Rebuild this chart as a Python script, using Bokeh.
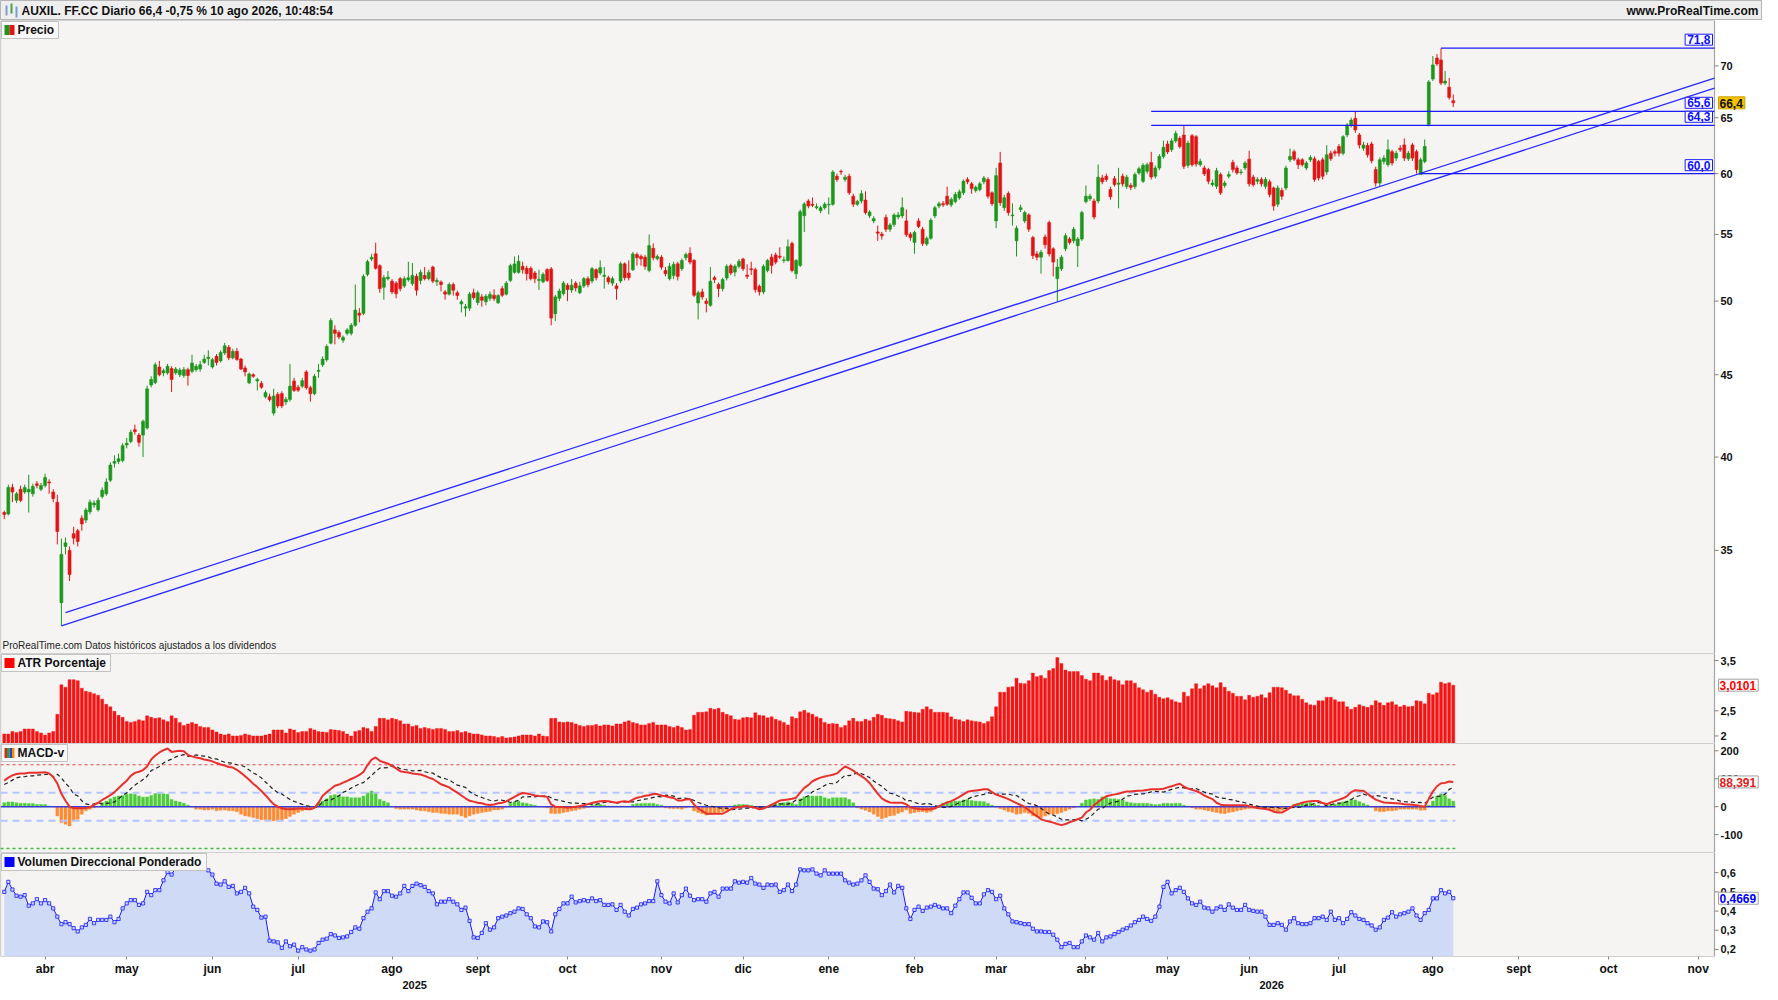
import numpy as np
import pandas as pd
from bokeh.plotting import figure
from bokeh.layouts import column
from bokeh.models import (Range1d, FixedTicker, CustomJSTickFormatter, Label,
                          BoxAnnotation, LinearAxis)
from bokeh.core.properties import value
from bokeh.embed import file_html
from bokeh.resources import INLINE

# ------------------------------------------------------------------ calendar
first_session = "2025-03-18"
last_calendar_day = "2026-12-31"
market_holidays = ["2025-04-18", "2025-04-21", "2025-05-01", "2025-12-25", "2025-12-26",
                   "2026-01-01", "2026-04-03", "2026-04-06", "2026-05-01"]
month_names = ["ene", "feb", "mar", "abr", "may", "jun", "jul", "ago", "sept", "oct", "nov", "dic"]

# ------------------------------------------------------------------ prices (daily OHLC)
opens = [
    36.95, 36.87, 38.3, 37.6, 38.2, 38.05, 38.05, 37.95, 38.5, 38.2,
    38.4, 38.6, 38.05, 37.5, 32.48, 35.2, 35.0, 35.85, 36.0, 36.65,
    36.55, 36.99, 37.35, 37.1, 37.8, 37.95, 38.7, 39.65, 39.75, 39.8,
    40.7, 40.9, 41.6, 41.28, 41.28, 41.7, 44.35, 44.5, 45.5, 45.12,
    45.12, 45.4, 45.12, 45.0, 44.95, 45.33, 45.22, 45.33, 45.37, 45.8,
    46.05, 45.5, 46.2, 45.9, 46.42, 46.8, 46.1, 46.53, 46.02, 45.44,
    44.48, 45.0, 44.6, 44.45, 43.6, 43.6, 42.6, 43.75, 43.8, 43.28,
    43.44, 44.6, 44.2, 44.27, 45.18, 44.17, 43.8, 45.22, 45.65, 45.98,
    47.08, 47.98, 47.8, 47.28, 47.75, 47.75, 48.3, 49.15, 49.13, 51.95,
    53.1, 53.5, 52.6, 51.0, 51.63, 51.45, 51.3, 51.63, 51.1, 51.55,
    51.26, 51.8, 51.5, 51.87, 51.63, 52.5, 51.4, 51.38, 50.66, 50.5,
    51.2, 50.6, 49.8, 49.5, 49.5, 50.6, 49.9, 50.3, 49.95, 50.2,
    50.42, 49.88, 50.9, 50.5, 51.5, 52.1, 52.1, 52.55, 52.4, 52.4,
    52.05, 51.5, 51.4, 52.3, 52.35, 49.1, 50.2, 50.54, 51.15, 50.8,
    51.3, 50.6, 51.1, 51.63, 51.46, 52.3, 52.05, 51.8, 51.7, 51.3,
    51.1, 51.46, 52.74, 52.05, 52.3, 53.44, 53.3, 53.24, 52.24, 53.92,
    53.12, 53.24, 52.24, 51.63, 51.87, 52.74, 52.37, 53.2, 53.54, 52.99,
    49.87, 50.66, 50.0, 49.7, 51.7, 51.2, 50.9, 51.68, 52.6, 52.12,
    52.55, 53.1, 51.9, 52.37, 52.3, 51.07, 50.66, 52.24, 53.24, 53.41,
    53.32, 52.99, 52.99, 54.3, 52.0, 52.62, 56.5, 57.7, 57.43, 57.15,
    56.9, 57.15, 57.38, 57.43, 59.78, 60.2, 59.5, 59.78, 58.1, 57.43,
    57.7, 57.78, 56.5, 56.08, 55.2, 55.03, 56.35, 55.42, 55.8, 56.4,
    56.48, 56.08, 55.03, 54.38, 56.08, 55.42, 54.25, 54.7, 56.48, 57.28,
    57.48, 58.1, 57.38, 57.65, 57.97, 58.38, 59.5, 59.13, 58.57, 58.65,
    59.3, 59.5, 58.38, 56.08, 60.92, 57.15, 58.32, 56.5, 54.51, 57.0,
    56.08, 56.56, 54.77, 53.49, 53.24, 54.8, 55.95, 53.88, 51.63, 52.37,
    53.88, 54.64, 54.51, 54.13, 54.64, 57.65, 57.88, 57.7, 57.7, 59.63,
    59.78, 58.65, 59.57, 59.1, 59.78, 58.9, 59.0, 58.9, 60.06, 59.35,
    60.2, 60.97, 59.78, 60.49, 61.5, 62.6, 62.1, 62.88, 63.12, 63.41,
    60.72, 63.35, 63.26, 60.78, 60.49, 60.35, 59.06, 58.93, 59.92, 59.0,
    59.78, 60.97, 60.49, 60.1, 60.49, 61.26, 59.7, 59.35, 59.5, 58.93,
    59.3, 58.79, 57.43, 58.57, 58.79, 61.2, 61.92, 61.2, 61.2, 60.49,
    61.2, 61.29, 61.06, 61.2, 60.15, 61.78, 61.92, 62.38, 61.78, 63.41,
    64.32, 64.94, 63.41, 62.23, 62.47, 62.6, 60.35, 59.2, 61.06, 60.78,
    61.92, 61.35, 62.23, 62.52, 61.29, 62.52, 61.92, 59.92, 61.06, 64.38,
    68.7, 70.8, 70.6, 68.3, 67.9, 66.6,
]
closes = [
    36.85, 38.3, 38.05, 37.95, 37.6, 38.3, 38.2, 38.35, 38.4, 38.4,
    38.85, 38.55, 37.7, 35.96, 34.8, 35.38, 33.81, 35.62, 35.45, 36.35,
    37.08, 37.5, 37.45, 37.6, 38.15, 38.6, 39.55, 39.75, 39.9, 40.66,
    40.8, 41.44, 41.48, 40.85, 42.1, 44.1, 44.7, 45.65, 45.0, 45.26,
    45.55, 44.7, 45.37, 45.3, 45.33, 44.95, 45.76, 45.55, 45.65, 46.02,
    46.15, 45.98, 45.8, 46.46, 46.9, 46.1, 46.53, 46.0, 45.37, 45.18,
    45.05, 44.9, 44.7, 44.2, 43.86, 43.42, 43.65, 43.04, 43.04, 43.44,
    44.27, 44.0, 44.02, 44.62, 44.17, 43.8, 44.9, 45.29, 46.02, 46.86,
    48.63, 47.75, 47.5, 47.48, 47.98, 48.3, 49.36, 49.0, 51.8, 52.9,
    53.23, 52.4, 50.9, 51.7, 51.75, 50.66, 50.54, 50.9, 51.63, 51.7,
    51.87, 50.78, 52.1, 51.63, 52.1, 51.45, 51.5, 51.2, 50.5, 51.2,
    50.78, 50.4, 49.95, 49.6, 50.5, 50.25, 50.6, 50.06, 50.35, 50.48,
    50.18, 50.4, 50.42, 51.3, 52.6, 52.73, 52.93, 52.3, 52.0, 51.63,
    51.63, 51.58, 51.95, 51.5, 48.8, 50.3, 50.73, 51.3, 50.83, 51.15,
    50.95, 51.1, 51.63, 51.2, 52.37, 51.7, 52.45, 51.88, 51.4, 51.63,
    50.9, 52.74, 51.7, 51.7, 53.49, 53.2, 53.12, 52.55, 54.13, 53.2,
    53.3, 52.49, 52.0, 52.55, 52.7, 51.8, 52.99, 53.44, 52.87, 50.42,
    50.6, 50.3, 49.83, 51.44, 51.56, 50.9, 51.56, 52.55, 52.05, 52.55,
    52.93, 52.37, 51.8, 52.3, 50.83, 50.66, 52.55, 52.99, 52.62, 52.87,
    53.24, 53.04, 54.05, 52.24, 52.99, 56.82, 57.46, 57.29, 57.35, 57.23,
    57.15, 57.43, 57.43, 60.14, 59.5, 60.15, 59.7, 58.38, 57.43, 57.65,
    58.3, 56.75, 56.8, 56.26, 55.1, 54.9, 55.42, 55.76, 56.56, 56.56,
    57.15, 54.98, 54.77, 55.16, 55.63, 54.3, 54.7, 56.14, 57.15, 57.48,
    57.38, 57.43, 57.83, 58.24, 58.46, 59.35, 59.3, 58.73, 58.84, 59.13,
    59.63, 58.1, 57.48, 59.83, 57.56, 57.97, 56.75, 56.56, 55.5, 57.15,
    56.75, 55.42, 53.36, 53.24, 53.62, 54.2, 53.49, 52.87, 52.49, 53.24,
    54.9, 54.38, 55.42, 54.64, 56.75, 58.1, 58.1, 56.4, 59.7, 59.3,
    59.5, 58.05, 59.07, 59.2, 59.13, 59.7, 58.84, 59.92, 60.43, 60.72,
    60.78, 59.72, 60.49, 61.5, 62.3, 61.9, 62.88, 63.56, 62.38, 60.63,
    62.68, 60.78, 60.83, 61.06, 59.98, 59.35, 59.2, 60.26, 58.38, 59.2,
    59.92, 60.35, 60.06, 60.15, 60.92, 59.13, 59.06, 59.5, 59.13, 59.5,
    58.24, 57.29, 58.79, 58.1, 60.49, 61.5, 61.26, 60.78, 60.78, 60.92,
    61.4, 59.5, 59.63, 59.78, 61.64, 61.29, 61.78, 61.78, 63.26, 64.32,
    64.78, 63.87, 62.52, 62.52, 61.64, 61.12, 59.2, 61.2, 61.35, 62.08,
    60.92, 61.78, 62.08, 61.35, 61.78, 61.35, 60.35, 61.2, 62.38, 68.4,
    70.1, 70.2, 68.3, 68.5, 66.9, 66.4,
]
highs = [
    37.05, 38.45, 38.5, 38.05, 38.4, 38.45, 39.0, 38.5, 38.65, 38.55,
    39.05, 38.75, 38.2, 37.9, 35.6, 35.65, 35.2, 36.2, 36.1, 36.8,
    37.2, 37.65, 37.6, 37.75, 38.3, 38.8, 39.7, 40.1, 40.2, 40.8,
    41.1, 41.6, 41.9, 41.4, 42.2, 44.3, 44.9, 45.8, 45.9, 45.4,
    45.7, 45.55, 45.5, 45.45, 45.5, 45.45, 46.3, 45.7, 45.9, 46.3,
    46.6, 46.1, 46.35, 46.6, 47.1, 46.95, 46.7, 46.75, 46.1, 45.6,
    45.15, 45.1, 44.8, 44.6, 44.0, 43.8, 44.1, 43.9, 43.95, 43.6,
    45.7, 44.8, 44.35, 44.8, 45.3, 44.3, 45.05, 45.7, 46.2, 47.0,
    48.8, 48.3, 47.95, 47.6, 48.1, 48.45, 51.2, 49.5, 51.95, 53.05,
    53.5, 54.35, 52.7, 51.9, 52.2, 51.6, 51.45, 51.75, 51.8, 52.9,
    52.8, 52.0, 52.3, 52.5, 52.3, 52.6, 51.7, 51.5, 50.8, 51.35,
    51.35, 50.75, 50.1, 49.8, 50.65, 50.9, 50.75, 50.5, 50.5, 50.7,
    50.85, 50.5, 51.1, 51.45, 52.75, 53.3, 53.4, 52.9, 52.6, 52.55,
    52.2, 52.3, 52.1, 52.4, 52.5, 50.45, 50.9, 51.45, 51.3, 51.6,
    51.45, 51.4, 51.75, 51.8, 52.5, 52.4, 53.0, 52.5, 51.85, 51.8,
    51.3, 52.9, 52.85, 53.0, 53.65, 53.6, 53.45, 53.4, 55.0, 54.3,
    53.45, 53.4, 52.5, 52.8, 52.9, 52.9, 53.15, 53.6, 54.0, 53.1,
    50.75, 50.9, 50.2, 52.5, 51.85, 51.35, 51.7, 52.7, 52.75, 52.7,
    53.1, 53.2, 52.7, 52.9, 52.45, 51.2, 52.7, 53.1, 53.5, 53.6,
    54.0, 53.3, 54.6, 54.45, 53.1, 57.0, 57.6, 57.85, 58.0, 57.5,
    57.3, 57.6, 58.0, 60.3, 60.0, 60.35, 59.9, 60.0, 58.3, 57.8,
    58.6, 58.5, 56.95, 56.45, 55.7, 55.2, 56.6, 55.9, 56.7, 56.8,
    58.0, 57.0, 55.2, 55.3, 56.3, 55.6, 54.85, 56.3, 57.3, 57.65,
    57.7, 58.9, 58.0, 58.45, 58.65, 59.5, 59.7, 59.3, 59.0, 59.3,
    59.8, 59.7, 58.5, 60.5, 61.9, 58.2, 58.5, 57.5, 55.7, 57.4,
    56.9, 56.7, 54.9, 53.7, 53.8, 55.0, 56.1, 54.0, 53.1, 53.4,
    55.1, 54.8, 55.6, 54.8, 56.9, 59.0, 58.3, 57.9, 60.8, 59.9,
    60.0, 58.9, 59.8, 60.5, 60.0, 59.9, 59.2, 60.1, 60.6, 60.9,
    60.95, 61.9, 60.7, 61.7, 62.9, 62.9, 63.1, 63.8, 63.3, 64.3,
    62.9, 63.5, 63.4, 61.3, 60.7, 60.5, 59.5, 60.5, 60.1, 59.4,
    60.2, 61.2, 60.7, 60.4, 61.1, 62.0, 59.9, 59.7, 59.7, 59.7,
    59.5, 58.9, 59.0, 58.8, 60.7, 62.2, 62.1, 61.4, 61.35, 61.1,
    61.6, 61.5, 61.2, 61.4, 62.5, 62.0, 62.1, 62.6, 63.4, 64.5,
    65.0, 65.6, 63.6, 62.8, 62.7, 62.8, 60.6, 61.4, 61.6, 63.0,
    62.1, 62.0, 62.5, 63.1, 62.0, 62.7, 62.1, 61.4, 63.0, 68.6,
    71.0, 71.2, 71.8, 69.5, 68.8, 67.2,
]
lows = [
    36.6, 36.8, 37.5, 37.45, 37.5, 37.95, 36.95, 37.8, 38.25, 38.1,
    38.3, 37.95, 37.5, 35.3, 31.42, 34.8, 33.5, 35.3, 35.2, 36.0,
    36.4, 36.85, 37.2, 37.0, 37.7, 37.85, 38.6, 39.4, 39.6, 39.7,
    40.5, 40.8, 41.3, 40.6, 40.0, 41.6, 44.2, 44.4, 44.9, 44.9,
    45.0, 43.9, 45.0, 44.85, 44.8, 44.3, 45.1, 45.2, 45.2, 45.7,
    45.6, 45.4, 45.6, 45.8, 46.3, 45.95, 46.0, 45.9, 45.3, 44.9,
    44.4, 44.8, 44.0, 44.1, 43.5, 43.3, 42.45, 42.9, 42.9, 43.1,
    43.3, 43.9, 43.9, 44.15, 44.05, 43.3, 43.7, 44.8, 45.5, 45.85,
    47.0, 47.0, 47.35, 47.1, 47.6, 47.6, 48.2, 48.5, 49.0, 51.8,
    52.95, 52.3, 50.6, 50.1, 51.5, 50.5, 50.2, 50.7, 50.95, 51.4,
    51.1, 50.4, 51.2, 51.5, 51.5, 51.3, 51.1, 50.7, 50.1, 50.4,
    50.4, 50.1, 49.2, 48.9, 49.3, 50.1, 49.7, 49.6, 49.7, 50.0,
    50.0, 49.8, 50.3, 50.4, 51.4, 52.0, 52.0, 52.0, 51.5, 51.5,
    51.3, 50.8, 51.3, 51.4, 48.3, 48.6, 50.0, 50.4, 50.0, 50.6,
    50.7, 50.5, 50.95, 51.0, 51.3, 51.5, 51.9, 50.9, 51.2, 51.1,
    50.1, 51.3, 51.5, 51.5, 52.2, 52.6, 52.6, 52.3, 52.1, 53.0,
    53.0, 52.3, 51.8, 51.5, 51.6, 51.5, 52.2, 53.0, 52.7, 50.3,
    48.7, 50.1, 49.2, 49.6, 51.3, 50.3, 50.7, 51.5, 51.9, 51.8,
    52.4, 52.2, 51.6, 51.9, 50.6, 50.4, 50.5, 52.1, 52.0, 52.7,
    53.1, 52.8, 52.9, 52.1, 51.6, 52.5, 55.2, 57.1, 57.2, 57.0,
    56.7, 57.0, 56.6, 57.3, 59.3, 59.9, 59.3, 58.2, 57.2, 57.3,
    57.5, 56.6, 56.3, 55.9, 54.5, 54.6, 55.2, 55.2, 55.6, 56.2,
    56.3, 54.8, 54.5, 53.5, 55.5, 54.1, 54.1, 54.6, 56.3, 57.1,
    57.2, 57.3, 57.2, 57.5, 57.8, 58.2, 59.1, 58.3, 58.4, 58.5,
    59.1, 57.9, 57.3, 55.5, 57.3, 56.9, 56.5, 55.7, 53.3, 56.8,
    55.9, 55.2, 53.1, 53.0, 52.0, 53.9, 53.3, 51.8, 49.95, 52.2,
    53.7, 54.2, 54.3, 52.5, 54.5, 57.5, 57.7, 56.2, 57.5, 59.1,
    59.3, 57.8, 58.9, 57.1, 58.9, 58.7, 58.6, 58.7, 59.9, 59.2,
    60.0, 59.5, 59.6, 60.3, 61.3, 61.7, 61.9, 62.7, 62.2, 60.4,
    60.5, 60.6, 60.6, 60.6, 59.8, 59.1, 58.9, 58.7, 58.2, 58.8,
    59.6, 60.1, 59.9, 59.9, 60.3, 58.9, 58.9, 59.1, 58.9, 58.7,
    58.0, 56.9, 57.2, 57.8, 58.6, 61.0, 61.1, 60.4, 60.6, 60.3,
    61.0, 59.3, 59.4, 59.5, 59.9, 61.1, 61.5, 61.5, 61.6, 63.2,
    64.1, 63.6, 62.2, 62.0, 61.4, 60.9, 58.9, 58.9, 60.8, 60.6,
    60.7, 61.1, 61.9, 61.1, 61.1, 61.1, 60.0, 60.0, 60.9, 64.2,
    68.5, 70.0, 68.1, 68.1, 66.7, 66.0,
]
price_ticks = [35, 40, 45, 50, 55, 60, 65, 70]

# ------------------------------------------------------------------ drawn lines / levels (price panel)
level_values = [71.8, 65.6, 64.3, 60.0]
level_from_bar = [352, 281, 281, 347]
trend_from_bar = [14, 15]
trend_from_price = [31.42, 32.02]
trend_to_bar = [419, 419]
trend_to_price = [67.8, 68.8]

# ------------------------------------------------------------------ ATR Porcentaje
atr_pct = [
    2.04, 2.04, 2.09, 2.07, 2.09, 2.14, 2.14, 2.14, 2.09, 2.06,
    2.02, 2.06, 2.09, 2.43, 3.02, 2.97, 3.12, 3.12, 3.10, 2.95,
    2.89, 2.87, 2.84, 2.81, 2.73, 2.63, 2.58, 2.49, 2.41, 2.37,
    2.29, 2.27, 2.29, 2.32, 2.30, 2.40, 2.37, 2.35, 2.36, 2.32,
    2.29, 2.40, 2.35, 2.27, 2.21, 2.24, 2.27, 2.24, 2.19, 2.17,
    2.17, 2.12, 2.08, 2.04, 2.02, 2.04, 2.00, 2.00, 2.01, 2.04,
    2.02, 2.00, 2.00, 2.00, 2.02, 2.04, 2.12, 2.12, 2.12, 2.06,
    2.14, 2.12, 2.07, 2.09, 2.09, 2.15, 2.12, 2.09, 2.08, 2.07,
    2.13, 2.12, 2.11, 2.09, 2.04, 2.00, 2.09, 2.11, 2.17, 2.15,
    2.09, 2.19, 2.35, 2.35, 2.32, 2.35, 2.33, 2.30, 2.24, 2.24,
    2.19, 2.21, 2.15, 2.17, 2.15, 2.13, 2.15, 2.15, 2.13, 2.09,
    2.09, 2.11, 2.07, 2.09, 2.06, 2.04, 2.04, 2.02, 2.00, 2.00,
    1.99, 1.97, 1.99, 1.96, 1.97, 1.98, 2.00, 2.02, 2.02, 2.02,
    2.00, 2.04, 2.00, 1.99, 2.35, 2.35, 2.28, 2.27, 2.28, 2.27,
    2.24, 2.21, 2.19, 2.21, 2.21, 2.23, 2.20, 2.22, 2.22, 2.20,
    2.24, 2.24, 2.28, 2.30, 2.27, 2.25, 2.22, 2.22, 2.25, 2.27,
    2.22, 2.22, 2.22, 2.19, 2.17, 2.20, 2.17, 2.12, 2.13, 2.41,
    2.47, 2.47, 2.48, 2.55, 2.53, 2.55, 2.47, 2.43, 2.40, 2.33,
    2.32, 2.36, 2.37, 2.36, 2.46, 2.41, 2.40, 2.36, 2.38, 2.33,
    2.30, 2.27, 2.22, 2.38, 2.35, 2.48, 2.51, 2.46, 2.43, 2.38,
    2.35, 2.27, 2.24, 2.25, 2.24, 2.17, 2.21, 2.30, 2.35, 2.29,
    2.29, 2.33, 2.30, 2.37, 2.43, 2.41, 2.35, 2.34, 2.33, 2.30,
    2.28, 2.49, 2.48, 2.47, 2.46, 2.53, 2.58, 2.53, 2.47, 2.47,
    2.47, 2.46, 2.38, 2.33, 2.32, 2.29, 2.32, 2.30, 2.29, 2.28,
    2.25, 2.29, 2.38, 2.58, 2.87, 2.87, 2.97, 2.98, 3.15, 3.05,
    3.04, 3.10, 3.25, 3.18, 3.20, 3.15, 3.30, 3.34, 3.56, 3.44,
    3.31, 3.28, 3.28, 3.28, 3.20, 3.13, 3.10, 3.25, 3.25, 3.20,
    3.11, 3.18, 3.12, 3.10, 3.02, 3.10, 3.10, 3.05, 2.96, 2.92,
    2.87, 2.91, 2.83, 2.77, 2.74, 2.76, 2.72, 2.68, 2.66, 2.87,
    2.79, 2.94, 3.04, 2.94, 3.00, 3.04, 3.00, 2.96, 3.06, 2.97,
    2.89, 2.85, 2.79, 2.79, 2.72, 2.81, 2.77, 2.79, 2.82, 2.76,
    2.86, 2.97, 2.97, 2.96, 2.91, 2.84, 2.80, 2.80, 2.73, 2.66,
    2.62, 2.61, 2.70, 2.70, 2.77, 2.77, 2.72, 2.68, 2.68, 2.58,
    2.53, 2.57, 2.62, 2.59, 2.57, 2.61, 2.70, 2.66, 2.61, 2.66,
    2.68, 2.62, 2.58, 2.61, 2.58, 2.59, 2.70, 2.69, 2.64, 2.85,
    2.82, 2.86, 3.07, 3.04, 3.06, 3.0101,
]
atr_ticks = [2, 2.5, 3.5]

# ------------------------------------------------------------------ MACD-v line and histogram
macd_v = [
    93, 104, 112, 117, 119, 119, 121, 121, 121, 122,
    123, 119, 106, 83, 46, 21, 0, -6, -6, -6,
    -5, -2, 6, 14, 24, 32, 41, 52, 66, 80,
    93, 110, 121, 125, 131, 144, 169, 183, 194, 202,
    208, 196, 198, 200, 198, 185, 180, 176, 173, 169,
    166, 162, 156, 151, 147, 142, 140, 132, 121, 109,
    96, 82, 70, 56, 41, 24, 9, 0, -6, -8,
    -9, -8, -7, -7, -8, -9, -4, 14, 39, 52,
    63, 75, 79, 86, 92, 99, 106, 114, 124, 149,
    168, 176, 164, 159, 154, 146, 137, 127, 124, 122,
    119, 117, 115, 110, 104, 99, 90, 80, 75, 69,
    59, 50, 40, 30, 21, 18, 14, 12, 8, 6,
    8, 12, 14, 19, 27, 35, 43, 49, 47, 44,
    40, 38, 37, 35, 8, 0, -1, -2, -4, -2,
    0, 2, 5, 9, 13, 17, 19, 20, 19, 17,
    14, 18, 19, 17, 25, 32, 35, 39, 41, 45,
    45, 40, 37, 34, 31, 22, 22, 26, 27, 7,
    -6, -15, -25, -25, -25, -25, -25, -18, -9, -4,
    -1, 1, 2, -1, -4, -9, -7, 0, 7, 14,
    22, 24, 26, 28, 32, 50, 67, 77, 91, 98,
    104, 108, 111, 114, 119, 132, 144, 137, 129, 118,
    109, 99, 85, 65, 47, 30, 21, 15, 14, 14,
    14, 8, -2, -6, -8, -9, -9, -9, -6, 1,
    9, 15, 20, 27, 35, 44, 53, 56, 58, 60,
    62, 62, 52, 43, 38, 33, 27, 20, 13, 6,
    -1, -13, -24, -34, -45, -50, -53, -57, -62, -66,
    -62, -56, -51, -45, -39, -21, -11, 5, 17, 28,
    37, 41, 44, 46, 51, 54, 54, 56, 57, 58,
    60, 62, 62, 62, 64, 69, 73, 78, 82, 72,
    65, 60, 56, 49, 40, 33, 27, 14, 7, 5,
    5, 5, 5, 5, 5, 2, -1, -5, -7, -8,
    -11, -18, -21, -21, -13, -4, 5, 9, 14, 18,
    19, 20, 20, 13, 9, 15, 20, 25, 30, 38,
    52, 59, 57, 57, 46, 35, 25, 20, 15, 14,
    13, 12, 11, 9, 8, 7, 5, 2, 0, 28,
    54, 73, 84, 85, 90, 88.391,
]
macd_hist = [
    14, 17, 17, 14, 12, 12, 11, 11, 8, 8,
    8, 2, -1, -33, -57, -63, -69, -51, -45, -27,
    -15, -9, -4, 0, 14, 20, 28, 35, 38, 40,
    44, 46, 44, 38, 34, 35, 40, 47, 50, 46,
    44, 26, 20, 17, 12, 5, -1, -9, -9, -12,
    -12, -9, -15, -13, -12, -15, -15, -18, -27, -33,
    -35, -39, -43, -47, -47, -51, -51, -51, -51, -43,
    -35, -27, -21, -15, -12, -9, -1, 14, 20, 28,
    40, 43, 40, 35, 35, 32, 32, 32, 38, 50,
    56, 50, 26, 20, 14, 0, -7, -9, -9, -9,
    -9, -12, -15, -15, -18, -21, -21, -24, -25, -27,
    -27, -27, -33, -39, -33, -27, -24, -21, -19, -17,
    -12, -12, -9, -1, 12, 17, 20, 14, 12, 8,
    5, 0, -1, -4, -24, -25, -24, -21, -19, -15,
    -13, -9, -6, -2, 5, 8, 8, 5, 2, 2,
    2, 2, 2, 0, 8, 11, 11, 12, 12, 12,
    8, 5, -4, -6, -7, -7, -9, -4, -1, -15,
    -21, -25, -30, -27, -24, -21, -18, -13, 2, 6,
    8, 8, 7, 5, -4, -7, -6, 0, 8, 8,
    12, 14, 17, 14, 8, 28, 35, 38, 38, 38,
    38, 32, 28, 32, 32, 32, 32, 26, 14, -4,
    -9, -13, -19, -27, -35, -43, -39, -33, -31, -24,
    -19, -12, -24, -21, -19, -18, -21, -18, -9, 0,
    12, 17, 19, 20, 20, 24, 26, 22, 20, 19,
    18, 12, 5, -1, -7, -12, -18, -21, -27, -25,
    -21, -24, -33, -37, -39, -33, -27, -27, -25, -21,
    -15, -9, -4, 0, 12, 24, 26, 28, 26, 35,
    32, 28, 28, 26, 24, 17, 14, 12, 12, 12,
    12, 9, 7, 8, 12, 12, 11, 12, 12, 5,
    1, -4, -9, -9, -12, -15, -18, -21, -24, -25,
    -21, -19, -15, -12, -9, -7, -6, -7, -6, -6,
    -9, -15, -18, -13, -7, 0, 8, 12, 14, 12,
    14, 8, 5, 2, 7, 8, 9, 12, 17, 20,
    26, 24, 18, 12, 6, -1, -15, -18, -18, -15,
    -15, -13, -9, -9, -9, -9, -9, -13, -12, 5,
    20, 36, 46, 40, 28, 20,
]
macd_levels = [150, 50, -50, -150]
macd_ticks = [-100, 0, 100, 200]

# ------------------------------------------------------------------ Volumen Direccional Ponderado
vdp = [
    0.500, 0.552, 0.512, 0.480, 0.475, 0.483, 0.428, 0.440, 0.462, 0.440,
    0.457, 0.440, 0.414, 0.371, 0.332, 0.342, 0.332, 0.311, 0.294, 0.315,
    0.328, 0.359, 0.337, 0.354, 0.354, 0.354, 0.371, 0.342, 0.359, 0.414,
    0.440, 0.457, 0.457, 0.432, 0.440, 0.500, 0.483, 0.509, 0.509, 0.560,
    0.603, 0.590, 0.625, 0.640, 0.655, 0.648, 0.660, 0.652, 0.640, 0.628,
    0.612, 0.590, 0.543, 0.538, 0.555, 0.526, 0.531, 0.492, 0.500, 0.521,
    0.492, 0.423, 0.406, 0.366, 0.371, 0.246, 0.242, 0.237, 0.208, 0.242,
    0.217, 0.225, 0.194, 0.212, 0.200, 0.194, 0.200, 0.234, 0.251, 0.256,
    0.280, 0.273, 0.260, 0.263, 0.268, 0.291, 0.315, 0.308, 0.363, 0.397,
    0.414, 0.497, 0.462, 0.504, 0.504, 0.480, 0.475, 0.492, 0.531, 0.504,
    0.531, 0.543, 0.535, 0.526, 0.504, 0.492, 0.435, 0.449, 0.449, 0.462,
    0.449, 0.435, 0.406, 0.418, 0.349, 0.263, 0.260, 0.286, 0.337, 0.303,
    0.315, 0.363, 0.371, 0.377, 0.389, 0.397, 0.414, 0.411, 0.383, 0.363,
    0.320, 0.315, 0.346, 0.342, 0.294, 0.383, 0.411, 0.440, 0.440, 0.475,
    0.445, 0.452, 0.457, 0.452, 0.466, 0.452, 0.457, 0.432, 0.432, 0.435,
    0.406, 0.432, 0.397, 0.377, 0.411, 0.418, 0.435, 0.440, 0.452, 0.452,
    0.555, 0.483, 0.449, 0.440, 0.492, 0.445, 0.483, 0.517, 0.480, 0.457,
    0.462, 0.462, 0.449, 0.492, 0.500, 0.475, 0.517, 0.517, 0.517, 0.555,
    0.548, 0.552, 0.548, 0.572, 0.543, 0.538, 0.521, 0.538, 0.535, 0.538,
    0.500, 0.509, 0.538, 0.504, 0.538, 0.617, 0.612, 0.612, 0.617, 0.595,
    0.586, 0.612, 0.595, 0.595, 0.595, 0.595, 0.560, 0.548, 0.538, 0.543,
    0.560, 0.586, 0.552, 0.517, 0.514, 0.483, 0.504, 0.538, 0.497, 0.531,
    0.521, 0.414, 0.359, 0.406, 0.423, 0.401, 0.418, 0.423, 0.432, 0.423,
    0.414, 0.414, 0.389, 0.428, 0.462, 0.497, 0.497, 0.469, 0.440, 0.440,
    0.487, 0.509, 0.500, 0.462, 0.480, 0.414, 0.383, 0.346, 0.342, 0.337,
    0.332, 0.332, 0.308, 0.294, 0.294, 0.291, 0.291, 0.277, 0.251, 0.212,
    0.229, 0.234, 0.212, 0.212, 0.242, 0.273, 0.263, 0.251, 0.286, 0.242,
    0.263, 0.268, 0.280, 0.291, 0.303, 0.311, 0.325, 0.342, 0.354, 0.371,
    0.359, 0.349, 0.371, 0.423, 0.526, 0.552, 0.492, 0.509, 0.521, 0.500,
    0.466, 0.440, 0.432, 0.449, 0.418, 0.414, 0.397, 0.414, 0.423, 0.406,
    0.435, 0.418, 0.406, 0.406, 0.432, 0.406, 0.401, 0.397, 0.397, 0.371,
    0.328, 0.328, 0.337, 0.328, 0.303, 0.346, 0.363, 0.337, 0.332, 0.332,
    0.337, 0.363, 0.363, 0.371, 0.354, 0.397, 0.354, 0.363, 0.337, 0.359,
    0.394, 0.377, 0.359, 0.354, 0.337, 0.325, 0.303, 0.315, 0.354, 0.366,
    0.394, 0.371, 0.383, 0.389, 0.397, 0.414, 0.377, 0.354, 0.389, 0.406,
    0.466, 0.466, 0.509, 0.492, 0.500, 0.4669,
]
vdp_ticks = [0.2, 0.3, 0.4, 0.5, 0.6]

n = len(closes)
for name, arr in [("opens", opens), ("highs", highs), ("lows", lows), ("atr_pct", atr_pct),
                  ("macd_v", macd_v), ("macd_hist", macd_hist), ("vdp", vdp)]:
    assert len(arr) == n, (name, len(arr), n)

# ------------------------------------------------------------------ calendar -> axis ticks
sessions = pd.bdate_range(first_session, last_calendar_day)
sessions = sessions[~sessions.isin(pd.to_datetime(market_holidays))]
month_pos, month_txt = [], []
for i in range(1, len(sessions)):
    if sessions[i].month != sessions[i - 1].month:
        month_pos.append(i)
        month_txt.append(month_names[sessions[i].month - 1])
first_2026 = int(np.argmax(sessions.year == 2026))

# ------------------------------------------------------------------ layout constants
FONT = "Liberation Sans"
W = 1762                 # whole width of every panel frame
DATA_W = 1714            # part of it used by the time axis
X_LO, X_HI = -0.92, 419.0
PX_PER_BAR = DATA_W / (X_HI - X_LO)
X_END = X_HI + (W - DATA_W) / PX_PER_BAR
xr = Range1d(X_LO, X_END)
BG = "#f5f4f2"
TICK_LEN = 4.0 / PX_PER_BAR

idx = np.arange(n)
o = np.array(opens); c = np.array(closes); h = np.array(highs); l = np.array(lows)
GREEN, RED = "#1c961c", "#e01414"
ccol = np.where(c >= o, GREEN, RED)


def fmt(v):
    return str(v).replace(".", ",")


def base_fig(fh, lo, hi, ticks, log=False, xaxis=False):
    p = figure(frame_width=W, frame_height=fh, x_range=xr, y_range=Range1d(lo, hi),
               y_axis_type="log" if log else "linear",
               x_axis_location="below" if xaxis else None,
               y_axis_location=None, toolbar_location=None,
               output_backend="svg", min_border=0)
    p.background_fill_color = "#ffffff"
    p.border_fill_color = "#ffffff"
    p.outline_line_color = None
    for g in p.grid:
        g.visible = False
    # plot area (grey) with its border, under the glyphs
    p.add_layout(BoxAnnotation(left=X_LO, right=X_HI, bottom=lo, top=hi, level="underlay",
                               fill_color=BG, fill_alpha=1.0, line_color="#a4a4a4",
                               line_alpha=1.0, line_width=1.2))
    # value scale on the right
    p.segment(x0=[X_HI] * len(ticks), y0=ticks, x1=[X_HI + TICK_LEN] * len(ticks), y1=ticks,
              line_color="#808080", line_width=1)
    p.text(x=[X_HI] * len(ticks), y=ticks, text=[fmt(t) for t in ticks], x_offset=6,
           text_baseline="middle", text_align="left", text_font=value(FONT),
           text_font_style="bold", text_font_size="11px", text_color="#111111")
    return p


def sbox(p, left, right, top, bottom, fill, line=None):
    p.add_layout(BoxAnnotation(left=left, right=right, top=top, bottom=bottom,
                               left_units="screen", right_units="screen",
                               top_units="screen", bottom_units="screen",
                               fill_color=fill, fill_alpha=1.0,
                               line_color=line, line_alpha=1.0, line_width=1))


def legend(p, fh, text, icon_cols, box_w):
    sbox(p, 1, box_w, fh - 1, fh - 18, "#f8f8f8", "#c2c2c2")
    iw = 10.0 / len(icon_cols)
    for k, col in enumerate(icon_cols):
        sbox(p, 4 + k * iw, 4 + (k + 1) * iw, fh - 4.5, fh - 14.5, col)
    p.add_layout(Label(x=17, y=fh - 9.5, x_units="screen", y_units="screen", text=text,
                       text_baseline="middle", text_align="left", text_font=FONT,
                       text_font_style="bold", text_font_size="12px", text_color="#111111"))


def value_box(p, y, text, color, fill="#ffffff", border="#a0a0a0"):
    p.add_layout(Label(x=X_HI, x_offset=4, y=y, x_units="data", y_units="data", text=text,
                       text_baseline="middle", text_align="left", text_font=FONT,
                       text_font_style="bold", text_font_size="12px", text_color=color,
                       background_fill_color=fill, background_fill_alpha=1.0,
                       border_line_color=border, border_line_alpha=1.0,
                       padding=dict(left=1, right=2, top=2, bottom=1)))


# ------------------------------------------------------------------ header
header = figure(frame_width=W, frame_height=20, x_range=Range1d(0, 1), y_range=Range1d(0, 1),
                x_axis_location=None, y_axis_location=None, toolbar_location=None,
                output_backend="svg", min_border=0)
header.background_fill_color = "#eeeeee"
header.border_fill_color = "#eeeeee"
header.outline_line_color = "#b5b5b5"
for g in header.grid:
    g.visible = False
sbox(header, 5, 7, 15, 5, "#7a9ad8")
sbox(header, 10, 12, 17, 7, "#4aa04a")
sbox(header, 15, 17, 14, 3, "#7a9ad8")
header.add_layout(Label(x=21, y=10, x_units="screen", y_units="screen",
                        text="AUXIL. FF.CC Diario 66,4 -0,75 % 10 ago 2026, 10:48:54",
                        text_baseline="middle", text_font=FONT, text_font_style="bold",
                        text_font_size="12px", text_color="#111111"))
header.add_layout(Label(x=W - 4, y=10, x_units="screen", y_units="screen",
                        text="www.ProRealTime.com", text_align="right",
                        text_baseline="middle", text_font=FONT, text_font_style="bold",
                        text_font_size="12px", text_color="#111111"))

# ------------------------------------------------------------------ price panel
PH = 633
pp = base_fig(PH, 30.2, 74.7, price_ticks, log=True)
pp.segment(x0=idx, y0=l, x1=idx, y1=h, line_color=ccol, line_width=1)
pp.vbar(x=idx, top=np.maximum(o, c), bottom=np.minimum(o, c), width=0.72,
        fill_color=ccol, line_color=ccol, line_width=0.6)
for x0, y0, x1, y1 in zip(trend_from_bar, trend_from_price, trend_to_bar, trend_to_price):
    pp.line([x0, x1], [y0, y1], line_color="#2a2aff", line_width=1.3)
for lv, xb in zip(level_values, level_from_bar):
    pp.segment(x0=[xb], y0=[lv], x1=[X_HI], y1=[lv], line_color="#1a1aff", line_width=1.3)
    pp.add_layout(Label(x=X_HI, x_offset=-2, y=lv, x_units="data", y_units="data",
                        text=f"{lv:.1f}".replace(".", ","), text_align="right",
                        text_baseline="bottom", y_offset=3, text_font=FONT,
                        text_font_style="bold", text_font_size="12px", text_color="#1010ff",
                        background_fill_color="#ffffff", background_fill_alpha=1.0,
                        border_line_color="#1a1aff", border_line_alpha=1.0,
                        padding=dict(left=2, right=2, top=1, bottom=1)))
legend(pp, PH, "Precio", [GREEN, RED], 58)
pp.add_layout(Label(x=2, y=3, x_units="screen", y_units="screen",
                    text="ProRealTime.com  Datos históricos ajustados a los dividendos",
                    text_baseline="bottom", text_font=FONT, text_font_size="10px",
                    text_color="#222222"))
value_box(pp, closes[-1], f"{closes[-1]:.1f}".replace(".", ","), "#111111",
          fill="#f5c400", border="#c9a100")

# ------------------------------------------------------------------ ATR panel
AH = 90
ATR_LO = 1.85
pa = base_fig(AH, ATR_LO, 3.64, atr_ticks)
pa.vbar(x=idx, top=atr_pct, bottom=ATR_LO, width=0.74, fill_color="#f41414",
        line_color="#f41414", line_width=0.4)
legend(pa, AH, "ATR Porcentaje", ["#ff0000"], 110)
value_box(pa, atr_pct[-1], f"{atr_pct[-1]:.4f}".replace(".", ","), "#ff0000")

# ------------------------------------------------------------------ MACD-v panel
MH = 109
pm = base_fig(MH, -164, 226, macd_ticks)
mv = np.array(macd_v, dtype=float)
mh = np.array(macd_hist, dtype=float)
signal = mv - mh
hcol = np.where(mh >= 0, "#4ccc3a", "#ff8a33")
pm.vbar(x=idx, top=mh, bottom=0, width=0.72, fill_color=hcol, line_color=hcol, line_width=0.4)
x_end = n - 1 + 0.5
lvl_style = {150: ("#e04848", "3 3", 1.2), 50: ("#b4c6ff", "7 5", 2.0),
             -50: ("#b4c6ff", "7 5", 2.0), -150: ("#40b840", "3 3", 1.5)}
for lv in macd_levels:
    col, dash, wd = lvl_style[lv]
    pm.line([X_LO, x_end], [lv, lv], line_color=col, line_dash=dash, line_width=wd)
pm.line([X_LO, x_end], [0, 0], line_color="#3c3cd6", line_width=1.5)
pm.line(idx, signal, line_color="#222222", line_dash="4 3", line_width=1.2)
pm.line(idx, mv, line_color="#e8302c", line_width=2)
legend(pm, MH, "MACD-v", ["#e02020", "#22aa22", "#2244dd", "#ff8800"], 67)
value_box(pm, macd_v[-1], f"{macd_v[-1]:.3f}".replace(".", ","), "#e02020")

# ------------------------------------------------------------------ Volumen panel
VH = 104
VOL_LO = 0.1634
pv = base_fig(VH, VOL_LO, 0.705, vdp_ticks, xaxis=True)
pv.varea(x=idx, y1=VOL_LO, y2=vdp, fill_color="#cfdbf6", fill_alpha=1.0)
pv.line(idx, vdp, line_color="#1a1aff", line_width=1)
pv.scatter(idx, vdp, marker="square", size=3.2, line_color="#1a1aff",
           fill_color="#c9d4ff", line_width=0.8)
legend(pv, VH, "Volumen Direccional Ponderado", ["#0000ff"], 206)
value_box(pv, vdp[-1], f"{vdp[-1]:.4f}".replace(".", ","), "#0000ff")

xa = pv.xaxis[0]
xa.ticker = FixedTicker(ticks=month_pos)
xa.formatter = CustomJSTickFormatter(args=dict(pos=month_pos, txt=month_txt), code="""
for (let k = 0; k < pos.length; k++) { if (Math.abs(pos[k] - tick) < 0.01) return txt[k]; }
return "";""")
xa.axis_line_color = None
xa.major_tick_line_color = "#888888"
xa.major_tick_in = 0
xa.major_tick_out = 3
xa.minor_tick_line_color = None
xa.major_label_text_font = FONT
xa.major_label_text_font_style = "bold"
xa.major_label_text_font_size = "12px"
xa.major_label_text_color = "#111111"
xa.major_label_standoff = 2

year_pos = [(X_LO + first_2026) / 2.0, (first_2026 + X_HI) / 2.0]
year_txt = [str(sessions[0].year), str(sessions[first_2026].year)]
ya2 = LinearAxis(ticker=FixedTicker(ticks=year_pos),
                 formatter=CustomJSTickFormatter(args=dict(pos=year_pos, txt=year_txt), code="""
for (let k = 0; k < pos.length; k++) { if (Math.abs(pos[k] - tick) < 0.01) return txt[k]; }
return "";"""))
ya2.axis_line_color = None
ya2.major_tick_line_color = None
ya2.minor_tick_line_color = None
ya2.major_label_text_font = FONT
ya2.major_label_text_font_style = "bold"
ya2.major_label_text_font_size = "11px"
ya2.major_label_text_color = "#111111"
ya2.major_label_standoff = -4
pv.add_layout(ya2, "below")

layout = column(header, pp, pa, pm, pv, spacing=0)
open("out.html", "w").write(file_html(layout, INLINE))
